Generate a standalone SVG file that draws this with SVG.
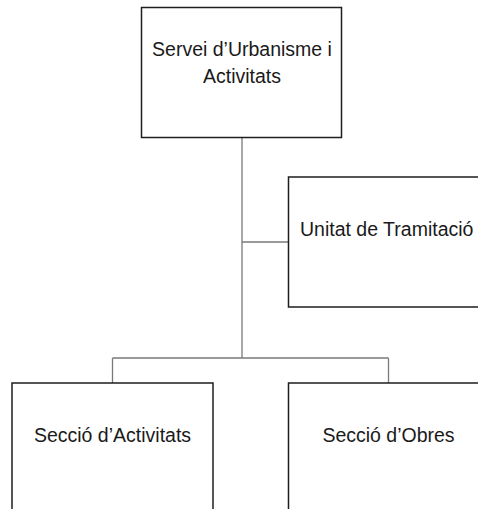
<svg xmlns="http://www.w3.org/2000/svg" width="478" height="509" viewBox="0 0 478 509">
<style>
.box{fill:#fff;stroke:#1e1e1e;stroke-width:1.5}
.lbl{font-family:"Liberation Sans",Arial,sans-serif;font-size:19.5px;fill:#1a1a1a}
.c{text-anchor:middle}
.conn{fill:none;stroke:#7a7a7a;stroke-width:1.3}
</style>
<rect width="478" height="509" fill="#fff"/>
<g id="connectors">
<path class="conn" d="M242 137.5V358M242 242H288.5M112.5 358H388.5M112.5 358V383M388.5 358V383"/>
</g>
<g id="servei">
<rect class="box" x="141.5" y="7.5" width="200" height="130"/>
<text class="lbl c" x="242" y="56">Servei d’Urbanisme i</text>
<text class="lbl c" x="242" y="83">Activitats</text>
</g>
<g id="unitat">
<rect class="box" x="288.5" y="177" width="200" height="130"/>
<text class="lbl" x="300" y="236">Unitat de Tramitació</text>
</g>
<g id="activitats">
<rect class="box" x="12" y="383" width="201" height="140"/>
<text class="lbl c" x="112.5" y="442">Secció d’Activitats</text>
</g>
<g id="obres">
<rect class="box" x="288.5" y="383" width="201" height="140"/>
<text class="lbl c" x="388.5" y="442">Secció d’Obres</text>
</g>
</svg>
